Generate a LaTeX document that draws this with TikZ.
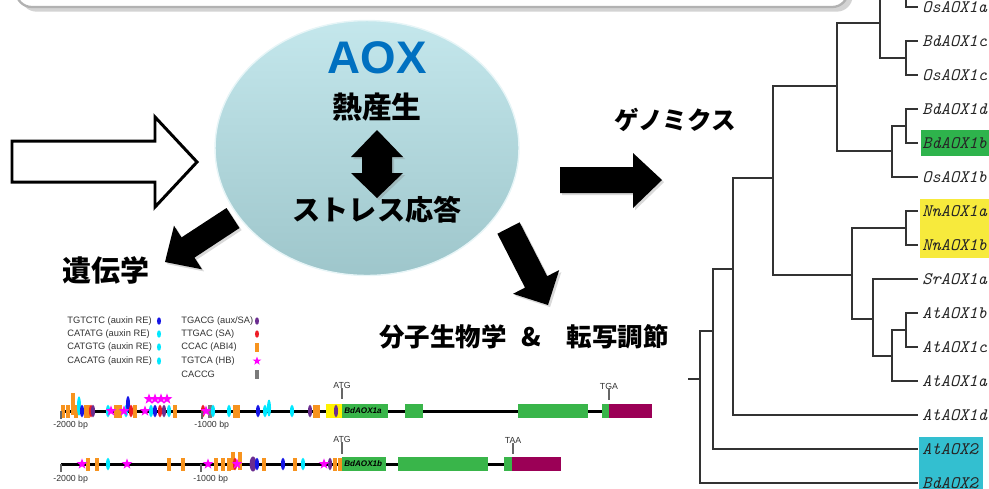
\documentclass[tikz,border=0pt]{standalone}
\usepackage{fontspec}
\setmainfont{Liberation Sans}
\newfontfamily\jpfont{Noto Sans CJK JP}
\usetikzlibrary{calc,shadows,shapes.geometric}
\definecolor{aoxblue}{HTML}{0070C0}
\definecolor{ellTop}{HTML}{C4E7EC}
\definecolor{ellBot}{HTML}{9EC6CB}
\definecolor{exongreen}{HTML}{39B54A}
\definecolor{utrred}{HTML}{9B0056}
\definecolor{mOrange}{HTML}{F7931E}
\definecolor{mCyan}{HTML}{00E8FF}
\definecolor{mBlue}{HTML}{1515E6}
\definecolor{mRed}{HTML}{EE1C25}
\definecolor{mPurple}{HTML}{6B2D90}
\definecolor{mMagenta}{HTML}{FF00FF}
\definecolor{mGray}{HTML}{7A7A7A}
\definecolor{hlGreen}{HTML}{2EB34C}
\definecolor{hlYellow}{HTML}{F7EA3C}
\definecolor{hlCyan}{HTML}{33BFD0}
\definecolor{promYellow}{HTML}{FFF200}
\def\mbar[#1](#2,#3:#4){\fill[#1] (#2-1.6,#3-#4) rectangle (#2+1.6,#3+#4);}
\def\mdot[#1](#2,#3:#4){\fill[#1] (#2,#3) ellipse (1.15pt and #4pt);}
\tikzset{mstar/.pic={\fill[mMagenta] (90:3.2pt) \foreach \i in {1,...,9}{-- ({90+36*\i}:{ifthenelse(isodd(\i),1.3,3.2)*1pt})} -- cycle;}}

\begin{document}
\begin{tikzpicture}[x=0.02cm,y=-0.02cm,
  tree/.style={line width=0.85pt,draw=black!80},
  leaf/.style={anchor=west,inner xsep=2.3pt,inner ysep=0pt,text=black!85,font=\ttfamily\itshape\fontsize{10}{10}\selectfont},
  fat/.style={fill=black,drop shadow={shadow xshift=1.2pt,shadow yshift=-1.2pt,opacity=0.3}},
  jp/.style={font=\jpfont\bfseries\fontsize{#1}{#1}\selectfont,inner sep=0pt},
  lgd/.style={anchor=west,inner sep=0pt,text=black!80,font=\fontsize{5.3}{6}\selectfont},
  bplabel/.style={inner sep=0pt,text=black!80,font=\fontsize{5}{6}\selectfont},
  bptick/.style={draw=black!60,line width=0.6pt}]
		\useasboundingbox (0,0) rectangle (989,488);
		\clip (0,0) rectangle (989,488);
		%%%%% START %%%%%
		% banner at the top
		\draw[rounded corners=9pt,draw=gray!60,line width=1.3pt,fill=white,drop shadow={opacity=0.35}] (16,-60) rectangle (848,7);
		
		% AOX circle
		\node[ellipse,minimum width=6.08cm,minimum height=5.1cm,top color=ellTop,bottom color=ellBot,draw=white!60!ellTop,line width=0.8pt] (aox) at (367,148) {};
		\node[text=aoxblue,inner sep=0pt,font=\bfseries\fontsize{26}{26}\selectfont] (aoxlbl) at (377,58) {AOX};
		\node[jp=17] (heat) at (377,107) {熱産生};
		\node[jp=16] (stress) at (377,210) {ストレス応答};
		\fill[fat] (377,130) -- (403,157) -- (392,157) -- (392,173) -- (403,173) -- (377,198) -- (351,173) -- (362,173) -- (362,157) -- (351,157) -- cycle;
		
		% arrows
		\draw[line width=1.7pt,fill=white,line join=miter] (12,141) -- (155,141) -- (155,117) -- (197,162) -- (155,207) -- (155,182) -- (12,182) -- cycle;
		\fill[fat] (226.5,208) -- (239.5,228) -- (194.5,257.6) -- (202,269.3) -- (165,262) -- (174,225.7) -- (181.5,237.4) -- cycle;
		\fill[fat] (560,167) -- (633,167) -- (633,153) -- (662,180) -- (633,208) -- (633,193) -- (560,193) -- cycle;
		\fill[fat] (497.4,233.7) -- (519.6,222.3) -- (547.2,276.2) -- (559.2,270) -- (548,305) -- (513,293.8) -- (525,287.6) -- cycle;
		
		\node[jp=14] (genomics) at (675,120) {ゲノミクス};
		\node[jp=16.5] (genetics) at (106,270) {遺伝学};
		\node[jp=14.5] (molbio) at (524,337) {分子生物学\hspace{0.6em}\&\hspace{1em}転写調節};
		
		% tree
		\fill[hlGreen] (921,130) rectangle (995,156);
		\fill[hlYellow] (920,199) rectangle (995,258);
		\fill[hlCyan] (919,437) rectangle (983,495);
		
		\node[leaf] (OsAOX1a) at (918,7) {OsAOX1a};
		\node[leaf] (BdAOX1c) at (918,41) {BdAOX1c};
		\node[leaf] (OsAOX1c) at (918,75) {OsAOX1c};
		\node[leaf] (BdAOX1d) at (918,109) {BdAOX1d};
		\node[leaf] (BdAOX1b) at (918,143) {BdAOX1b};
		\node[leaf] (OsAOX1b) at (918,177) {OsAOX1b};
		\node[leaf] (NnAOX1a) at (918,211) {NnAOX1a};
		\node[leaf] (NnAOX1b) at (918,245) {NnAOX1b};
		\node[leaf] (SrAOX1a) at (918,279) {SrAOX1a};
		\node[leaf] (AtAOX1b) at (918,313) {AtAOX1b};
		\node[leaf] (AtAOX1c) at (918,347) {AtAOX1c};
		\node[leaf] (AtAOX1a) at (918,381) {AtAOX1a};
		\node[leaf] (AtAOX1d) at (918,415) {AtAOX1d};
		\node[leaf] (AtAOX2) at (918,449) {AtAOX2};
		\node[leaf] (BdAOX2) at (918,483) {BdAOX2};
		
		\coordinate (upper) at (918,-27);
		\coordinate (a0) at (906,-10);
		\coordinate (a1) at (880,23);
		\coordinate (a2) at (906,58);
		\coordinate (a3) at (837,86);
		\coordinate (a4) at (892,151);
		\coordinate (a5) at (906,126);
		\coordinate (a6) at (773,178);
		\coordinate (a7) at (852,275);
		\coordinate (a8) at (906,228);
		\coordinate (a9) at (873,319);
		\coordinate (a10) at (892,356);
		\coordinate (a11) at (906,330);
		\coordinate (a12) at (733,269);
		\coordinate (a13) at (713,331);
		\coordinate (a14) at (700,379);
		\coordinate (root) at (688,379);
		
		\draw[tree] (a0) |- (upper);
		\draw[tree] (a0) |- (OsAOX1a.west);
		\draw[tree] (a1) |- (a0);
		\draw[tree] (a1) |- (a2);
		\draw[tree] (a2) |- (BdAOX1c.west);
		\draw[tree] (a2) |- (OsAOX1c.west);
		\draw[tree] (a3) |- (a1);
		\draw[tree] (a3) |- (a4);
		\draw[tree] (a4) |- (a5);
		\draw[tree] (a4) |- (OsAOX1b.west);
		\draw[tree] (a5) |- (BdAOX1d.west);
		\draw[tree] (a5) |- (BdAOX1b.west);
		\draw[tree] (a6) |- (a3);
		\draw[tree] (a6) |- (a7);
		\draw[tree] (a7) |- (a8);
		\draw[tree] (a7) |- (a9);
		\draw[tree] (a8) |- (NnAOX1a.west);
		\draw[tree] (a8) |- (NnAOX1b.west);
		\draw[tree] (a9) |- (SrAOX1a.west);
		\draw[tree] (a9) |- (a10);
		\draw[tree] (a10) |- (a11);
		\draw[tree] (a10) |- (AtAOX1a.west);
		\draw[tree] (a11) |- (AtAOX1b.west);
		\draw[tree] (a11) |- (AtAOX1c.west);
		\draw[tree] (a12) |- (a6);
		\draw[tree] (a12) |- (AtAOX1d.west);
		\draw[tree] (a13) |- (a12);
		\draw[tree] (a13) |- (AtAOX2.west);
		\draw[tree] (a14) |- (a13);
		\draw[tree] (a14) |- (BdAOX2.west);
		\draw[tree] (root) -- (a14);
		
		% legend
		\node[lgd] (k1) at (67,321) {TGTCTC (auxin RE)};
		\node[lgd] (k2) at (67,334) {CATATG (auxin RE)};
		\node[lgd] (k3) at (67,347) {CATGTG (auxin RE)};
		\node[lgd] (k4) at (67,361) {CACATG (auxin RE)};
		\node[lgd] (k5) at (181,321) {TGACG (aux/SA)};
		\node[lgd] (k6) at (181,334) {TTGAC (SA)};
		\node[lgd] (k7) at (181,347) {CCAC (ABI4)};
		\node[lgd] (k8) at (181,361) {TGTCA (HB)};
		\node[lgd] (k9) at (181,374) {CACCG};
		\mdot[mBlue](159,321:2.1)
		\foreach \y in {334,347,361} {\mdot[mCyan](159,\y:2.1)}
		\mdot[mPurple](257,321:2.1)
		\mdot[mRed](257,334:2.1)
		\mbar[mOrange](257,347:4.5)
		\pic[scale=0.8] at (257,361) {mstar};
		\mbar[mGray](257,374:4.5)
		
		% promoter + gene, BdAOX1a
		\draw[line width=1.7pt] (61,411) -- (602,411);
		\fill[promYellow] (326,404) rectangle (342,418);
		\foreach \x in {63,68,76,86,88,116,120,135,175,235,238,315,318} {\mbar[mOrange](\x,411:6.5)}
		\mbar[mOrange](73,404:11)
		\mbar[mGray](210,411:6.5)
		\foreach \x in {108,126,151,169,213,229,265,292} {\mdot[mCyan](\x,411:3.6)}
		\mdot[mCyan](79,406:5.5)
		\mdot[mCyan](269,408:4.8)
		\foreach \x in {82,155,258} {\mdot[mBlue](\x,411:3.6)}
		\mdot[mBlue](128,404:4.5)
		\foreach \x in {91,131,160,203} {\mdot[mRed](\x,411:3.6)}
		\foreach \x in {93,164,310,336} {\mdot[mPurple](\x,411:3.6)}
		\foreach \x in {111,124,145,206} {\pic at (\x,411) {mstar};}
		\foreach \x in {149,155,161,167} {\pic at (\x,399) {mstar};}
		\fill[exongreen] (342,404) rectangle (388,418);
		\fill[exongreen] (405,404) rectangle (423,418);
		\fill[exongreen] (518,404) rectangle (588,418);
		\fill[exongreen] (602,404) rectangle (609,418);
		\fill[utrred] (609,404) rectangle (652,418);
		\node[anchor=west,inner sep=0pt,font=\bfseries\itshape\fontsize{4.6}{5}\selectfont] (g1) at (344,411) {BdAOX1a};
		\node[bplabel] (atg1) at (342,385) {ATG};
		\node[bplabel] (tga1) at (609,386) {TGA};
		\draw[bptick] (atg1.south) -- ++(0,11);
		\draw[bptick] (tga1.south) -- ++(0,11);
		\coordinate (m1a) at (61,411);
		\coordinate (m1b) at (202,411);
		\draw[bptick] (m1a) -- ++(0,8);
		\draw[bptick] (m1b) -- ++(0,8);
		\node[bplabel,anchor=west] (l1a) at (53,425) {-2000 bp};
		\node[bplabel,anchor=west] (l1b) at (194,425) {-1000 bp};
		
		% promoter + gene, BdAOX1b
		\draw[line width=1.7pt] (61,464) -- (504,464);
		\foreach \x in {88,97,169,183,216,223,229,264,295,335,340} {\mbar[mOrange](\x,464:6.5)}
		\mbar[mOrange](233,461:9)
		\mbar[mOrange](240,461:9)
		\foreach \x in {108,303} {\mdot[mCyan](\x,464:3.6)}
		\mdot[mRed](235,464:3.6)
		\fill[mPurple] (253,464) ellipse (1.9pt and 4.3pt);
		\mdot[mPurple](330,464:3.6)
		\foreach \x in {257,283} {\mdot[mBlue](\x,464:3.6)}
		\foreach \x in {82,127,208,237,324} {\pic at (\x,464) {mstar};}
		\fill[exongreen] (342,457) rectangle (386,471);
		\fill[exongreen] (398,457) rectangle (488,471);
		\fill[exongreen] (504,457) rectangle (512,471);
		\fill[utrred] (512,457) rectangle (561,471);
		\node[anchor=west,inner sep=0pt,font=\bfseries\itshape\fontsize{4.6}{5}\selectfont] (g2) at (344,464) {BdAOX1b};
		\node[bplabel] (atg2) at (342,439) {ATG};
		\node[bplabel] (taa2) at (513,440) {TAA};
		\draw[bptick] (atg2.south) -- ++(0,12);
		\draw[bptick] (taa2.south) -- ++(0,11);
		\coordinate (m2a) at (61,464);
		\coordinate (m2b) at (201,464);
		\draw[bptick] (m2a) -- ++(0,8);
		\draw[bptick] (m2b) -- ++(0,8);
		\node[bplabel,anchor=west] (l2a) at (53,479) {-2000 bp};
		\node[bplabel,anchor=west] (l2b) at (193,479) {-1000 bp};
		%%%%% END %%%%%
	\end{tikzpicture}
\end{document}
